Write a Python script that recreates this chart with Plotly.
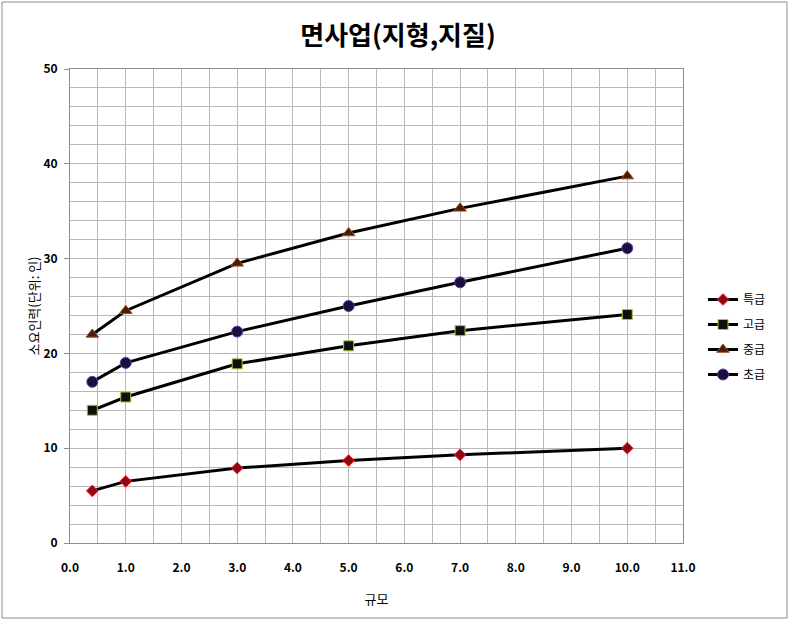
import plotly.graph_objects as go

x_vals = [0.4, 1.0, 3.0, 5.0, 7.0, 10.0]
series_names = ["특급", "고급", "중급", "초급"]
tukgeup = [5.5, 6.5, 7.9, 8.7, 9.3, 10.0]
gogeup = [14.0, 15.4, 18.9, 20.8, 22.4, 24.1]
junggeup = [22.0, 24.5, 29.5, 32.7, 35.3, 38.7]
chogeup = [17.0, 19.0, 22.3, 25.0, 27.5, 31.1]

title_text = "면사업(지형,지질)"
x_title = "규모"
y_title = "소요인력(단위: 인)"

FONT = "Noto Sans CJK KR"

styles = [
    dict(symbol="diamond", color="#8b0a1a", line=dict(color="#ff2020", width=1), size=9),
    dict(symbol="square", color="#101010", line=dict(color="#9acd32", width=1), size=10),
    dict(symbol="triangle-up", color="#4a1a0a", line=dict(color="#a05020", width=1), size=11),
    dict(symbol="circle", color="#1a1040", line=dict(color="#6a3aa0", width=1), size=11),
]

fig = go.Figure()
for i, (name, ys, st) in enumerate(zip(series_names, [tukgeup, gogeup, junggeup, chogeup], styles)):
    fig.add_trace(go.Scatter(
        x=x_vals, y=ys, name=name, mode="lines+markers", legendgroup="g%d" % i,
        line=dict(color="black", width=3),
        marker=st,
    ))

W, H = 790, 621
L, R, T, B = 70, 683, 69, 543
pw, ph = R - L, B - T

fig.update_layout(
    width=W, height=H,
    margin=dict(l=L, r=W - R, t=T, b=H - B),
    paper_bgcolor="white", plot_bgcolor="white",
    font=dict(family=FONT, color="black", size=12),
    title=dict(text="<b>" + title_text + "</b>", x=398 / W, xanchor="center",
               y=1 - 36 / H, yanchor="middle", font=dict(size=26, family=FONT)),
    showlegend=True,
    legend=dict(x=(703 - L) / pw, xanchor="left", y=(B - 337) / ph, yanchor="middle",
                font=dict(size=12, family=FONT), tracegroupgap=6, itemwidth=30,
                bgcolor="rgba(0,0,0,0)"),
    xaxis=dict(
        range=[0, 11], dtick=1, tick0=0, tickformat=".1f",
        showgrid=True, gridcolor="#b8b8b8", gridwidth=1,
        minor=dict(dtick=0.5, showgrid=True, gridcolor="#b8b8b8", gridwidth=1),
        showline=True, linecolor="#8c8c8c", linewidth=1, mirror=True,
        ticks="", zeroline=False, ticklabelstandoff=14,
        title=dict(text=x_title, font=dict(size=13, family=FONT), standoff=20),
        tickfont=dict(size=12, family=FONT, color="black", weight="bold"),
    ),
    yaxis=dict(
        range=[0, 50], dtick=10, tick0=0,
        showgrid=True, gridcolor="#b8b8b8", gridwidth=1,
        minor=dict(dtick=2, showgrid=True, gridcolor="#b8b8b8", gridwidth=1),
        showline=True, linecolor="#8c8c8c", linewidth=1, mirror=True,
        ticks="outside", ticklen=5, tickcolor="#8c8c8c", zeroline=False,
        ticklabelstandoff=4,
        title=dict(text=y_title, font=dict(size=13, family=FONT), standoff=0),
        tickfont=dict(size=12, family=FONT, color="black", weight="bold"),
    ),
)

fig.add_shape(type="rect", xref="paper", yref="paper",
              x0=(2 - L) / pw, x1=(787 - L) / pw,
              y0=(B - 618) / ph, y1=(B - 2) / ph,
              line=dict(color="#8c8c8c", width=1), fillcolor="rgba(0,0,0,0)", layer="below")

fig.write_html("out.html")
